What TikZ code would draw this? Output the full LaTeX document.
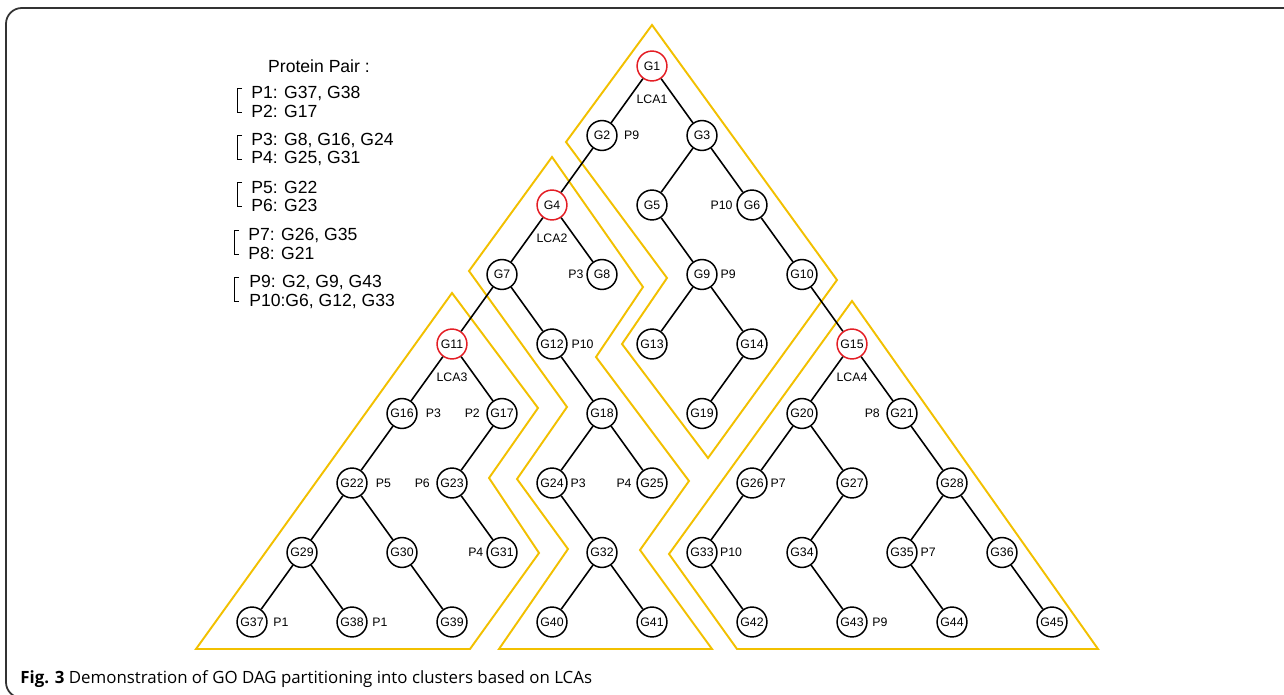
\documentclass[tikz,border=0pt]{standalone}
\usepackage{fontspec}
\setmainfont{Liberation Sans}
\newfontfamily\capfont{Open Sans}
\usetikzlibrary{positioning}
\definecolor{clusyellow}{RGB}{242,192,0}
\definecolor{lcared}{RGB}{228,30,37}
\tikzset{
  gnode/.style={circle,draw,line width=.85pt,fill=white,minimum size=17pt,inner sep=0pt,font=\fontsize{7}{8}\selectfont},
  lcanode/.style={gnode,draw=lcared},
  plab/.style={inner sep=0pt,font=\fontsize{7}{8}\selectfont},
  edge/.style={line width=.9pt},
  cluster/.style={draw=clusyellow,line width=1.1pt},
  pairtxt/.style={anchor=west,inner sep=0pt,font=\fontsize{10}{12}\selectfont},
  bracket/.style={line width=.5pt},
}
\begin{document}
\begin{tikzpicture}[x=0.02cm,y=-0.02cm]
    \useasboundingbox (0,0) rectangle (1284,695);
    \clip (0,0) rectangle (1284,695);
    % frame
    \draw[line width=1pt,draw=black!80,rounded corners=9] (1300,8) -- (6,8) -- (6,698) -- (60,698);
    % clusters
    \draw[cluster] (652,25) -- (566,142) -- (667,278) -- (622,344) -- (708,458) -- (837,280) -- cycle;
    \draw[cluster] (552,157) -- (469,271) -- (567,407) -- (517,479) -- (568,549) -- (499,649) -- (712,649) -- (640,550) -- (689,481) -- (596,357) -- (643,287) -- cycle;
    \draw[cluster] (452,293) -- (196,649) -- (470,649) -- (539,553) -- (489,478) -- (538,408) -- cycle;
    \draw[cluster] (852,301) -- (669,554) -- (737,649) -- (1098,649) -- cycle;
    % GO terms
    \node[lcanode] (G1) at (652,66) {G1};
    \node[gnode] (G2) at (602,135.5) {G2};
    \node[gnode] (G3) at (702,135.5) {G3};
    \node[lcanode] (G4) at (552,205) {G4};
    \node[gnode] (G5) at (652,205) {G5};
    \node[gnode] (G6) at (752,205) {G6};
    \node[gnode] (G7) at (502,274.5) {G7};
    \node[gnode] (G8) at (602,274.5) {G8};
    \node[gnode] (G9) at (702,274.5) {G9};
    \node[gnode] (G10) at (802,274.5) {G10};
    \node[lcanode] (G11) at (452,344) {G11};
    \node[gnode] (G12) at (552,344) {G12};
    \node[gnode] (G13) at (652,344) {G13};
    \node[gnode] (G14) at (752,344) {G14};
    \node[lcanode] (G15) at (852,344) {G15};
    \node[gnode] (G16) at (402,413.5) {G16};
    \node[gnode] (G17) at (502,413.5) {G17};
    \node[gnode] (G18) at (602,413.5) {G18};
    \node[gnode] (G19) at (702,413.5) {G19};
    \node[gnode] (G20) at (802,413.5) {G20};
    \node[gnode] (G21) at (902,413.5) {G21};
    \node[gnode] (G22) at (352,483) {G22};
    \node[gnode] (G23) at (452,483) {G23};
    \node[gnode] (G24) at (552,483) {G24};
    \node[gnode] (G25) at (652,483) {G25};
    \node[gnode] (G26) at (752,483) {G26};
    \node[gnode] (G27) at (852,483) {G27};
    \node[gnode] (G28) at (952,483) {G28};
    \node[gnode] (G29) at (302,552.5) {G29};
    \node[gnode] (G30) at (402,552.5) {G30};
    \node[gnode] (G31) at (502,552.5) {G31};
    \node[gnode] (G32) at (602,552.5) {G32};
    \node[gnode] (G33) at (702,552.5) {G33};
    \node[gnode] (G34) at (802,552.5) {G34};
    \node[gnode] (G35) at (902,552.5) {G35};
    \node[gnode] (G36) at (1002,552.5) {G36};
    \node[gnode] (G37) at (252,622) {G37};
    \node[gnode] (G38) at (352,622) {G38};
    \node[gnode] (G39) at (452,622) {G39};
    \node[gnode] (G40) at (552,622) {G40};
    \node[gnode] (G41) at (652,622) {G41};
    \node[gnode] (G42) at (752,622) {G42};
    \node[gnode] (G43) at (852,622) {G43};
    \node[gnode] (G44) at (952,622) {G44};
    \node[gnode] (G45) at (1052,622) {G45};
    % is-a links
    \draw[edge] (G1)--(G2); \draw[edge] (G1)--(G3);
    \draw[edge] (G2)--(G4);
    \draw[edge] (G3)--(G5); \draw[edge] (G3)--(G6);
    \draw[edge] (G4)--(G7); \draw[edge] (G4)--(G8);
    \draw[edge] (G5)--(G9);
    \draw[edge] (G6)--(G10);
    \draw[edge] (G7)--(G11); \draw[edge] (G7)--(G12);
    \draw[edge] (G9)--(G13); \draw[edge] (G9)--(G14);
    \draw[edge] (G10)--(G15);
    \draw[edge] (G11)--(G16); \draw[edge] (G11)--(G17);
    \draw[edge] (G12)--(G18);
    \draw[edge] (G14)--(G19);
    \draw[edge] (G15)--(G20); \draw[edge] (G15)--(G21);
    \draw[edge] (G16)--(G22);
    \draw[edge] (G17)--(G23);
    \draw[edge] (G18)--(G24); \draw[edge] (G18)--(G25);
    \draw[edge] (G20)--(G26); \draw[edge] (G20)--(G27);
    \draw[edge] (G21)--(G28);
    \draw[edge] (G22)--(G29); \draw[edge] (G22)--(G30);
    \draw[edge] (G23)--(G31);
    \draw[edge] (G24)--(G32);
    \draw[edge] (G26)--(G33);
    \draw[edge] (G27)--(G34);
    \draw[edge] (G28)--(G35); \draw[edge] (G28)--(G36);
    \draw[edge] (G29)--(G37); \draw[edge] (G29)--(G38);
    \draw[edge] (G30)--(G39);
    \draw[edge] (G32)--(G40); \draw[edge] (G32)--(G41);
    \draw[edge] (G33)--(G42);
    \draw[edge] (G34)--(G43);
    \draw[edge] (G35)--(G44);
    \draw[edge] (G36)--(G45);
    % LCA labels
    \node[plab,below=7.5pt of G1] (lca1) {LCA1};
    \node[plab,below=7.5pt of G4] (lca2) {LCA2};
    \node[plab,below=7.5pt of G11] (lca3) {LCA3};
    \node[plab,below=7.5pt of G15] (lca4) {LCA4};
    % pair labels
    \node[plab,right=3.5pt of G2] (p9a) {P9};
    \node[plab,left=2pt of G6] (p10a) {P10};
    \node[plab,left=1.5pt of G8] (p3a) {P3};
    \node[plab,right=1.5pt of G9] (p9b) {P9};
    \node[plab,right=2pt of G12] (p10b) {P10};
    \node[plab,right=4.5pt of G16] (p3b) {P3};
    \node[plab,left=3.5pt of G17] (p2) {P2};
    \node[plab,right=4.5pt of G22] (p5) {P5};
    \node[plab,left=3.5pt of G23] (p6) {P6};
    \node[plab,right=1.5pt of G24] (p3c) {P3};
    \node[plab,left=2.5pt of G25] (p4b) {P4};
    \node[plab,left=1.5pt of G31] (p4a) {P4};
    \node[plab,right=3pt of G37] (p1a) {P1};
    \node[plab,right=2.5pt of G38] (p1b) {P1};
    \node[plab,left=3.5pt of G21] (p8) {P8};
    \node[plab,right=1.5pt of G26] (p7a) {P7};
    \node[plab,right=1.2pt of G33] (p10c) {P10};
    \node[plab,right=1.5pt of G35] (p7b) {P7};
    \node[plab,right=2.5pt of G43] (p9c) {P9};
    % legend
    \node[inner sep=0pt,font=\fontsize{10}{12}\selectfont] (title) at (319,66) {Protein Pair :};
    \node[pairtxt] (pp1) at (251,93) {P1: G37, G38};
    \node[pairtxt] (pp2) at (251,111) {P2: G17};
    \node[pairtxt] (pp3) at (251,140) {P3: G8, G16, G24};
    \node[pairtxt] (pp4) at (251,158) {P4: G25, G31};
    \node[pairtxt] (pp5) at (251,187) {P5: G22};
    \node[pairtxt] (pp6) at (251,205.5) {P6: G23};
    \node[pairtxt] (pp7) at (248,235) {P7: G26, G35};
    \node[pairtxt] (pp8) at (248,253) {P8: G21};
    \node[pairtxt] (pp9) at (249,282) {P9: G2, G9, G43};
    \node[pairtxt] (pp10) at (249,301) {P10:G6, G12, G33};
    \draw[bracket] (242,88) -- (237,88) -- (237,112) -- (242,112);
    \draw[bracket] (242,135) -- (237,135) -- (237,159) -- (242,159);
    \draw[bracket] (242,182) -- (237,182) -- (237,206) -- (242,206);
    \draw[bracket] (239,230) -- (234,230) -- (234,254) -- (239,254);
    \draw[bracket] (239,277) -- (234,277) -- (234,301) -- (239,301);
    % caption
    \node[anchor=west,inner sep=0pt,font=\capfont\fontsize{9.6}{12}\selectfont] (cap) at (20,679) {\textbf{Fig. 3} Demonstration of GO DAG partitioning into clusters based on LCAs};
\end{tikzpicture}
\end{document}
